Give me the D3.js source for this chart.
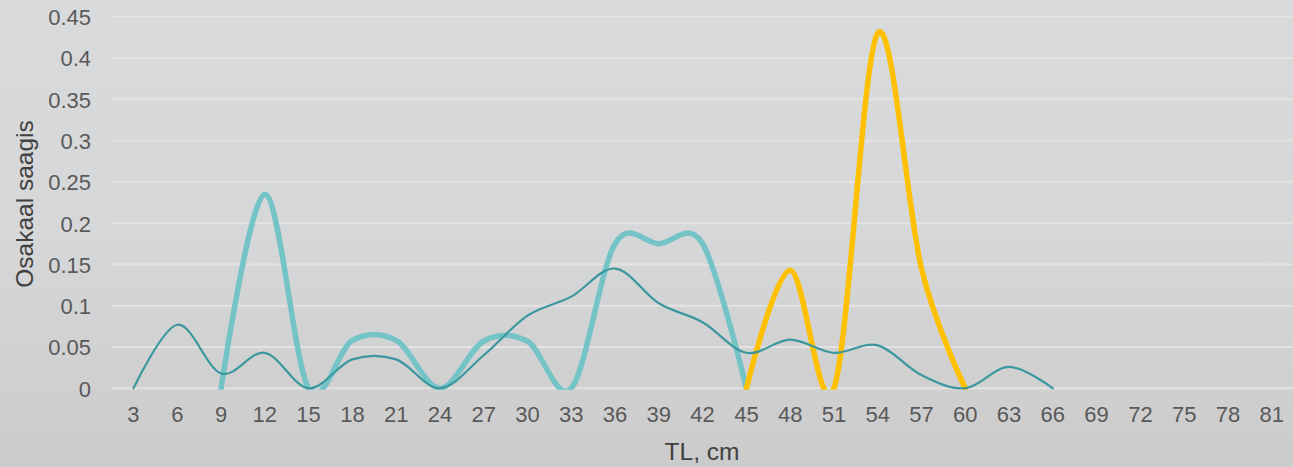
<!DOCTYPE html>
<html>
<head>
<meta charset="utf-8">
<script src="https://cdn.jsdelivr.net/npm/d3@7/dist/d3.min.js"></script>
<style>
html,body{margin:0;padding:0;overflow:hidden;}
svg{display:block;}
</style>
</head>
<body>
<svg id="chart" width="1293" height="467"></svg>
<script>
const categories = [3,6,9,12,15,18,21,24,27,30,33,36,39,42,45,48,51,54,57,60,63,66,69,72,75,78,81];
const yTicks = [0,0.05,0.1,0.15,0.2,0.25,0.3,0.35,0.4,0.45];
const yTickLabels = ["0","0.05","0.1","0.15","0.2","0.25","0.3","0.35","0.4","0.45"];
// thin dark teal line
const thinCats = [3,6,9,12,15,18,21,24,27,30,33,36,39,42,45,48,51,54,57,60,63,66];
const thinVals = [0,0.077,0.018,0.043,0,0.035,0.035,0,0.04,0.088,0.111,0.145,0.103,0.08,0.043,0.059,0.043,0.052,0.016,0,0.026,0];
// thick light teal line
const tealCats = [9,12,15,18,21,24,27,30,33,36,39,42,45];
const tealVals = [0,0.235,0,0.058,0.058,0,0.057,0.057,0,0.175,0.175,0.175,0];
// thick yellow line
const yellowCats = [45,48,51,54,57,60];
const yellowVals = [0,0.143,0,0.43,0.145,0];

(function(){
const W = 1293, H = 467;
const svg = d3.select("#chart");
const defs = svg.append("defs");
const grad = defs.append("linearGradient").attr("id","bg").attr("x1",0).attr("y1",0).attr("x2",0).attr("y2",1);
grad.append("stop").attr("offset","0").attr("stop-color","#d9dadc");
grad.append("stop").attr("offset","0.5").attr("stop-color","#d6d7d8");
grad.append("stop").attr("offset","0.85").attr("stop-color","#cfcfd0");
grad.append("stop").attr("offset","1").attr("stop-color","#cbcbcb");
svg.append("rect").attr("width",W).attr("height",H).attr("fill","url(#bg)");

const pL = 111.6, pR = 1293.6, pT = 16.7, pB = 388.3;
const x = d3.scaleBand().domain(categories).range([pL, pR]);
const y = d3.scaleLinear().domain([0,0.45]).range([pB, pT]);
const cx = c => x(c) + x.bandwidth()/2;

defs.append("clipPath").attr("id","plotclip").append("rect")
  .attr("x",pL).attr("y",pT-10).attr("width",pR-pL).attr("height",pB-pT+10+1.5);

// gridlines
svg.append("g").selectAll("line").data(yTicks).join("line")
  .attr("x1",pL).attr("x2",pR)
  .attr("y1",d=>y(d)).attr("y2",d=>y(d))
  .attr("stroke","#e3e3e4").attr("stroke-width",2);

const font = "'Liberation Sans', Arial, sans-serif";
// y axis labels
const yAxis = d3.axisLeft(y).tickValues(yTicks).tickFormat((d,i)=>yTickLabels[i]).tickSize(0).tickPadding(0);
const gy = svg.append("g").attr("transform",`translate(91,0)`).call(yAxis);
gy.select(".domain").remove();
gy.selectAll("text").attr("fill","#595959").style("font-family",font).style("font-size","22px").attr("dy","0.36em");

// x axis labels
const xAxis = d3.axisBottom(x).tickSize(0).tickPadding(0);
const gx = svg.append("g").attr("transform",`translate(0,${pB+18})`).call(xAxis);
gx.select(".domain").remove();
gx.selectAll("text").attr("fill","#595959").style("font-family",font).style("font-size","22px").attr("dy","0.71em");

// axis titles
svg.append("text").attr("x",702).attr("y",460).attr("text-anchor","middle")
  .attr("fill","#404040").style("font-family",font).style("font-size","24.5px").text("TL, cm");
svg.append("text").attr("transform","translate(33,204) rotate(-90)").attr("text-anchor","middle")
  .attr("fill","#404040").style("font-family",font).style("font-size","24.5px").text("Osakaal saagis");

const line = d3.line().x(d=>cx(d[0])).y(d=>y(d[1])).curve(d3.curveCardinal.tension(0));
const plot = svg.append("g").attr("clip-path","url(#plotclip)");

plot.append("path").datum(tealCats.map((c,i)=>[c,tealVals[i]]))
  .attr("d",line).attr("fill","none").attr("stroke","#74c3c7").attr("stroke-width",5.5).attr("stroke-linecap","round").attr("stroke-linejoin","round");
plot.append("path").datum(yellowCats.map((c,i)=>[c,yellowVals[i]]))
  .attr("d",line).attr("fill","none").attr("stroke","#ffc000").attr("stroke-width",5.5).attr("stroke-linecap","round").attr("stroke-linejoin","round");
plot.append("path").datum(thinCats.map((c,i)=>[c,thinVals[i]]))
  .attr("d",line).attr("fill","none").attr("stroke","#3a989e").attr("stroke-width",2.2).attr("stroke-linecap","round").attr("stroke-linejoin","round");
})();
</script>
</body>
</html>
